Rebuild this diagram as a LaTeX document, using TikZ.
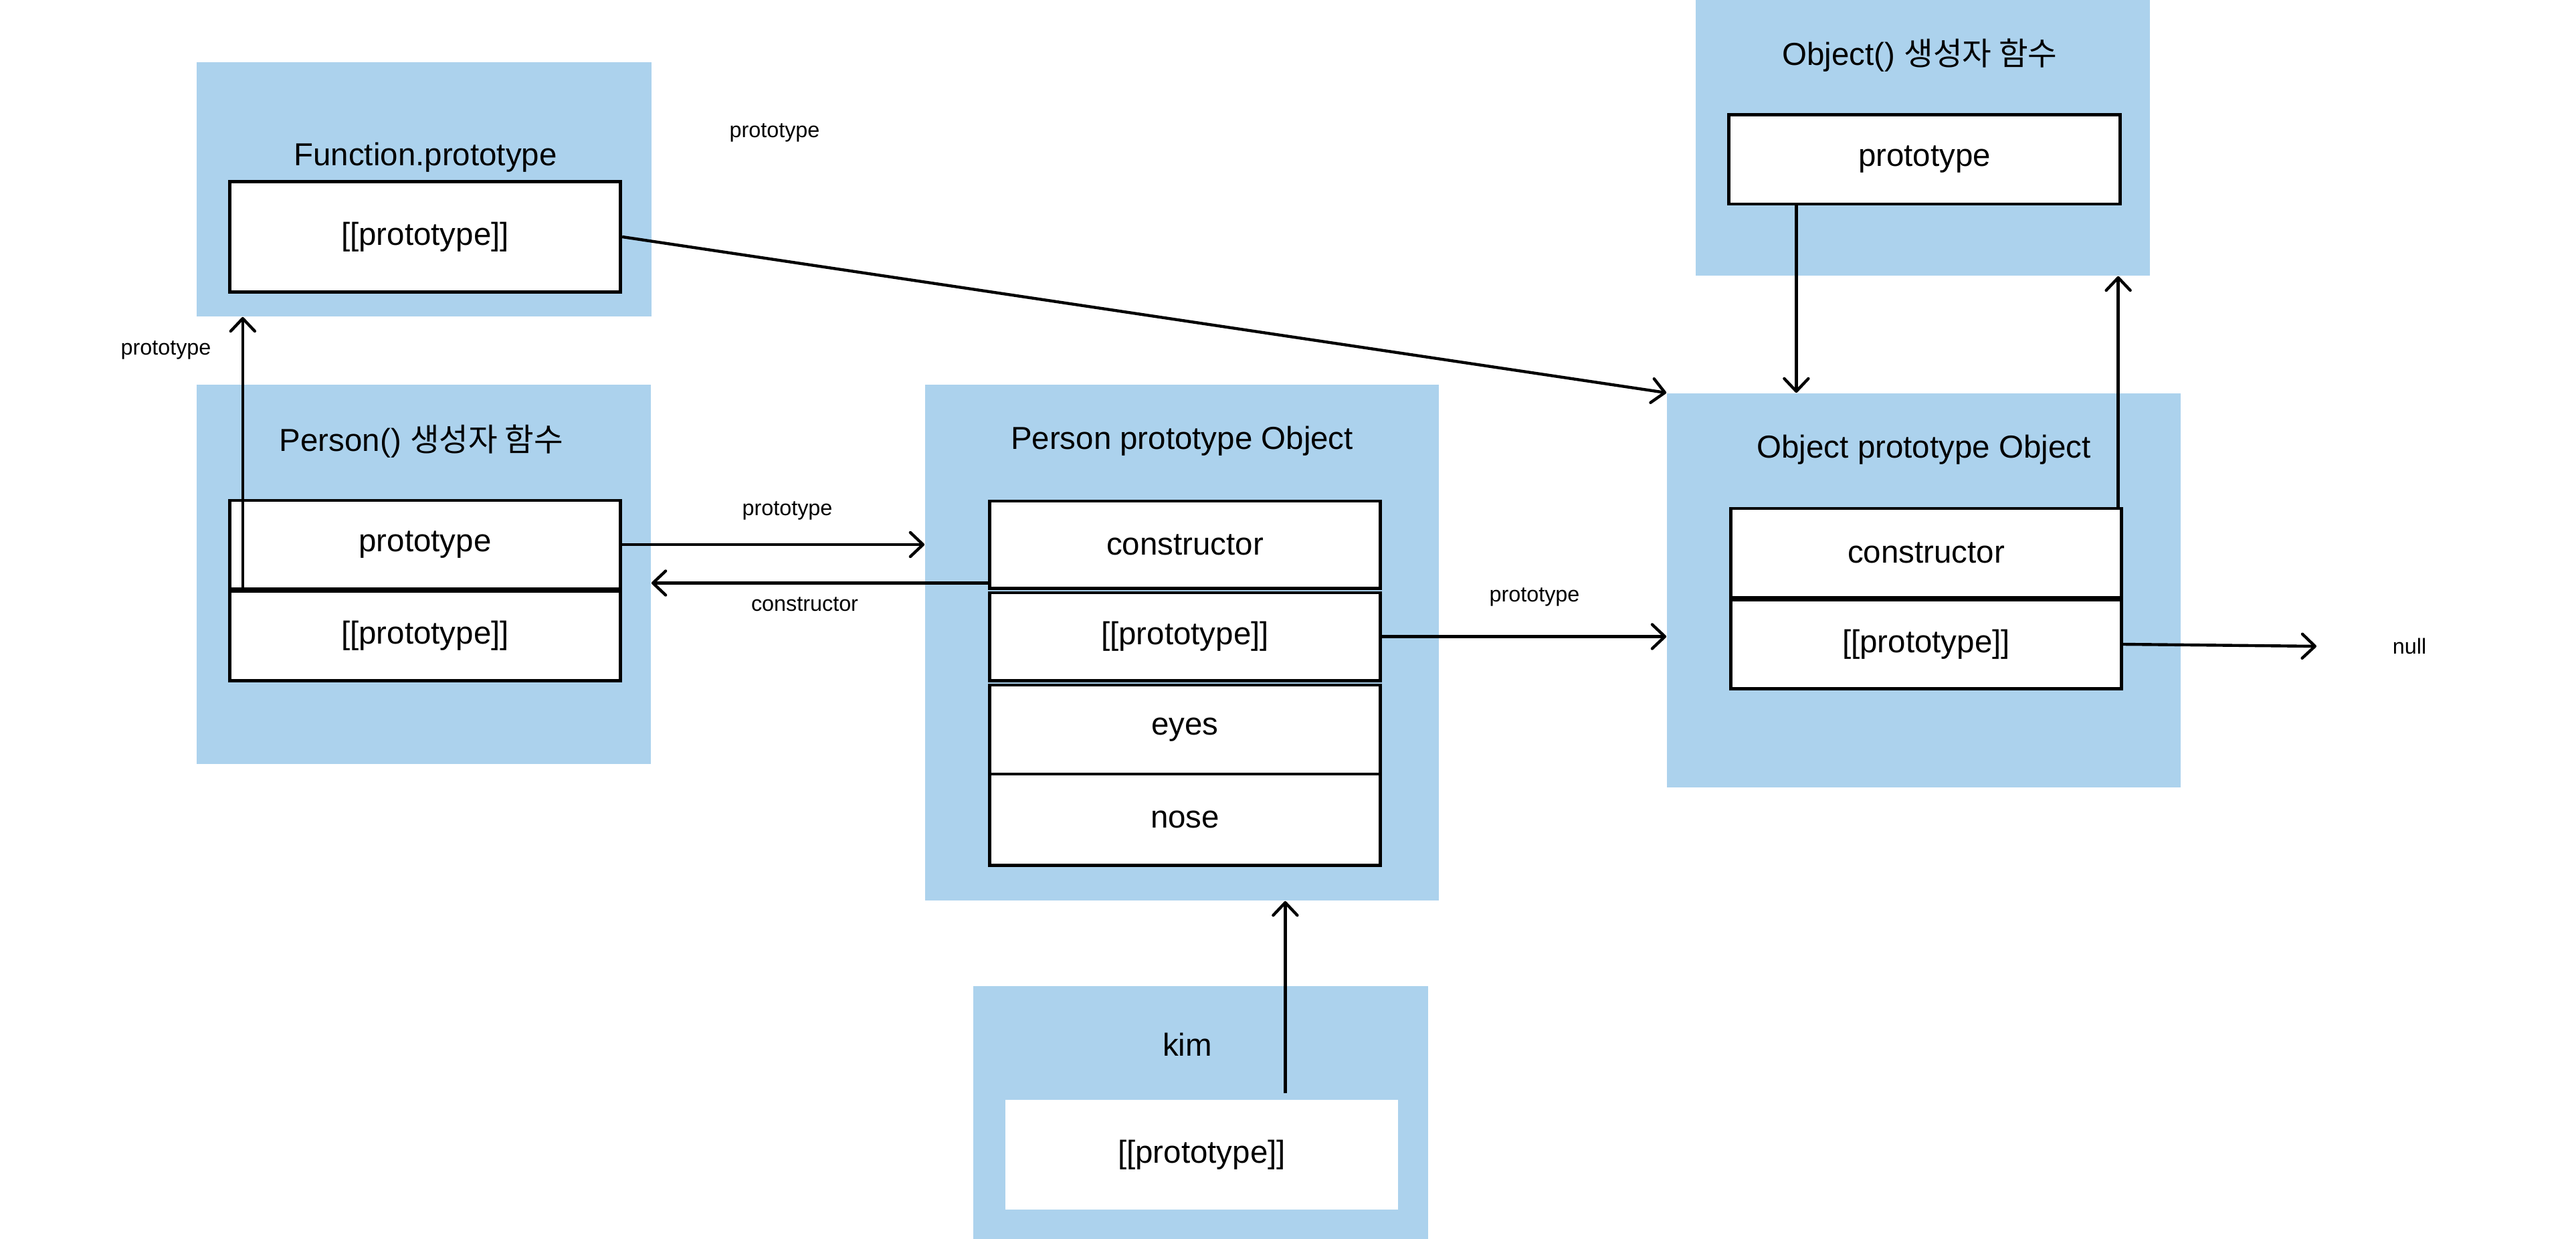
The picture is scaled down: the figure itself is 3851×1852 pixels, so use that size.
\documentclass[tikz,border=0pt]{standalone}
\usepackage{fontspec}
\setmainfont{Liberation Sans}
\newfontfamily\kor{Noto Sans CJK KR}
\usepackage{xcolor}
\definecolor{boxblue}{RGB}{172,210,237}
\usetikzlibrary{calc}
\usetikzlibrary{arrows.meta}
\tikzset{
  panel/.style={fill=boxblue, inner sep=0pt},
  slot/.style={draw, fill=white, line width=1.4pt, inner sep=0pt, minimum width=5.84cm, font=\fontsize{13.5}{16}\selectfont},
  heading/.style={font=\fontsize{13.5}{16}\selectfont},
  tag/.style={font=\fontsize{9.2}{11}\selectfont},
  link/.style={-{Straight Barb[length=0.19cm,width=0.36cm,round]}, line width=1.25pt},
}

\begin{document}
\begin{tikzpicture}[x=0.01cm, y=-0.01cm]
  \useasboundingbox (0,0) rectangle (3851,1852);

  % blue panels
  \node[panel, minimum width=6.8cm, minimum height=3.8cm] (fnPanel) at (634,283) {};
  \node[panel, minimum width=6.79cm, minimum height=5.67cm] (personPanel) at (633.5,858.5) {};
  \node[panel, minimum width=7.68cm, minimum height=7.71cm] (ppPanel) at (1767,960.5) {};
  \node[panel, minimum width=6.79cm, minimum height=4.12cm] (objPanel) at (2874.5,206) {};
  \node[panel, minimum width=7.68cm, minimum height=5.89cm] (opPanel) at (2876,882.5) {};
  \node[panel, minimum width=6.8cm, minimum height=3.78cm] (kimPanel) at (1795,1663) {};

  \node[heading] (fnTitle) at (636,235) {Function.prototype};
  \node[heading] (personTitle) at (630,660) {Person() {\kor 생성자 함수}};
  \node[heading] (ppTitle) at (1767,659) {Person prototype Object};
  \node[heading] (objTitle) at (2870,83) {Object() {\kor 생성자 함수}};
  \node[heading] (opTitle) at (2876,672) {Object prototype Object};
  \node[heading] (kimTitle) at (1775,1561) {kim};

  % slots
  \node[slot, minimum height=1.64cm] (fnProto) at (635.5,354) {[[prototype]]};
  \node[slot, minimum height=1.32cm] (personProto) at (635.5,814) {prototype};
  \node[slot, minimum height=1.33cm] (personIproto) at (635.5,950.5) {[[prototype]]};
  \node[slot, minimum width=5.83cm, minimum height=1.30cm] (ppCtor) at (1771.5,814) {constructor};
  \node[slot, minimum width=5.83cm, minimum height=1.31cm] (ppIproto) at (1771.5,951.5) {[[prototype]]};
  \node[slot, minimum width=5.83cm, minimum height=1.33cm] (ppEyes) at (1771.5,1090.5) {eyes};
  \node[slot, minimum width=5.83cm, minimum height=1.36cm] (ppNose) at (1771.5,1225) {nose};
  \node[slot, minimum height=1.33cm] (objProto) at (2877,238.5) {prototype};
  \node[slot, minimum width=5.83cm, minimum height=1.33cm] (opCtor) at (2879.5,826.5) {constructor};
  \node[slot, minimum width=5.83cm, minimum height=1.32cm] (opIproto) at (2879.5,963) {[[prototype]]};
  \node[slot, draw=none, minimum width=5.87cm, minimum height=1.64cm] (kimIproto) at (1796.5,1726) {[[prototype]]};

  \node[tag] (fnFree) at (1158,198) {prototype};
  \node[tag] (upTag) at (248,523) {prototype};
  \node[tag] (rightTag) at (1177,763) {prototype};
  \node[tag] (ctorTag) at (1203,903) {constructor};
  \node[tag] (ppTag) at (2294,892) {prototype};
  \node[tag] (nullTag) at (3602,966) {null};

  % links
  \coordinate (personUp) at ($(personProto.south west)+(22,-4)$);
  \coordinate (ppBack) at ($(ppCtor.south west)+(0,-10)$);
  \coordinate (objDown) at ($(objProto.south west)+(103,0)$);
  \coordinate (opUp) at ($(opCtor.north east)+(-7,0)$);
  \coordinate (kimUp) at ($(kimIproto.north west)+(421,-8)$);
  \coordinate (nullEnd) at (3463,966);

  \draw[link] (fnProto.east) -- (opPanel.north west);
  \draw[link] (personUp) -- (personUp |- fnPanel.south);
  \draw[link] (personProto.east) -- (personProto.east -| ppPanel.west);
  \draw[link] (ppBack) -- (ppBack -| personPanel.east);
  \draw[link] (ppIproto.east) -- (ppIproto.east -| opPanel.west);
  \draw[link] (objDown) -- (objDown |- opPanel.north);
  \draw[link] (opUp) -- (opUp |- objPanel.south);
  \draw[link] (opIproto.east) -- (nullEnd);
  \draw[link] (kimUp) -- (kimUp |- ppPanel.south);
\end{tikzpicture}
\end{document}
